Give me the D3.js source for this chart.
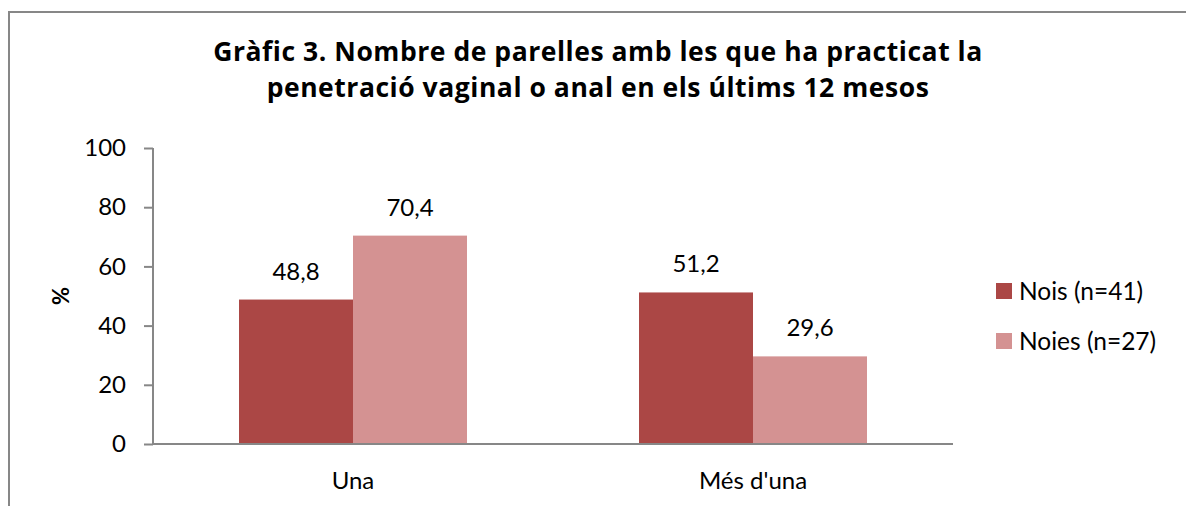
<!DOCTYPE html>
<html>
<head>
<meta charset="utf-8">
<script src="https://cdn.jsdelivr.net/npm/d3@7"></script>
<style>
  html, body { margin: 0; padding: 0; background: #fff; }
  svg { display: block; font-family: Lato, "Open Sans", sans-serif; }
</style>
</head>
<body>
<div id="chart"></div>
<script>
// Data
const categories = ["Una", "Més d'una"];
const seriesNames = ["Nois (n=41)", "Noies (n=27)"];
const nois = [48.8, 51.2];
const noies = [70.4, 29.6];
const yTicks = [0, 20, 40, 60, 80, 100];
const titleLines = [
  "Gràfic 3. Nombre de parelles amb les que ha practicat la",
  "penetració vaginal o anal en els últims 12 mesos"
];
const colors = ["#AB4745", "#D49292"];

document.addEventListener("DOMContentLoaded", function () {
  const width = 1186;
  const height = 506;
  const margin = { top: 148, right: 233, bottom: 62, left: 153 };

  const svg = d3.select("#chart")
    .append("svg")
    .attr("width", width)
    .attr("height", height);

  // Outer frame (runs off the right and bottom edge)
  svg.append("rect")
    .attr("x", 9)
    .attr("y", 12)
    .attr("width", 1200)
    .attr("height", 520)
    .attr("fill", "none")
    .attr("stroke", "#878787")
    .attr("stroke-width", 2);

  // Title, fitted to the width of the original first line
  const title = svg.append("g")
    .attr("font-family", "'Open Sans', sans-serif")
    .attr("font-weight", "bold")
    .attr("text-anchor", "middle")
    .attr("fill", "#000");
  const lines = title.selectAll("text")
    .data(titleLines)
    .enter()
    .append("text")
    .attr("x", 598)
    .attr("y", (d, i) => 61 + i * 36)
    .attr("font-size", 26.5)
    .text(d => d);
  const w = lines.node().getComputedTextLength();
  const extra = Math.max(0, (769 - w) / (titleLines[0].length - 1));
  lines.attr("letter-spacing", extra);

  // Scales
  const x0 = d3.scaleBand()
    .domain(categories)
    .range([margin.left, width - margin.right])
    .paddingInner(0.43)
    .paddingOuter(0.215);

  const x1 = d3.scaleBand()
    .domain(seriesNames)
    .range([0, x0.bandwidth()]);

  const y = d3.scaleLinear()
    .domain([0, 100])
    .range([height - margin.bottom, margin.top]);

  // Bars
  const rows = categories.map((c, i) => ({ cat: c, values: [nois[i], noies[i]] }));

  const groups = svg.selectAll(".group")
    .data(rows)
    .enter()
    .append("g")
    .attr("class", "group")
    .attr("transform", d => `translate(${x0(d.cat)},0)`);

  groups.selectAll("rect")
    .data(d => d.values.map((v, j) => ({ name: seriesNames[j], value: v, j: j })))
    .enter()
    .append("rect")
    .attr("x", d => x1(d.name))
    .attr("y", d => y(d.value))
    .attr("width", x1.bandwidth())
    .attr("height", d => y(0) - y(d.value))
    .attr("fill", d => colors[d.j]);

  // Data labels
  groups.selectAll(".label")
    .data(d => d.values.map((v, j) => ({ name: seriesNames[j], value: v })))
    .enter()
    .append("text")
    .attr("class", "label")
    .attr("x", d => x1(d.name) + x1.bandwidth() / 2)
    .attr("y", d => y(d.value) - 20)
    .attr("text-anchor", "middle")
    .attr("font-size", 24)
    .attr("fill", "#000")
    .text(d => d3.format(".1f")(d.value).replace(".", ","));

  // Y axis
  const yAxis = svg.append("g")
    .attr("transform", `translate(${margin.left},0)`)
    .call(d3.axisLeft(y).tickValues(yTicks).tickSize(9).tickPadding(18));
  yAxis.selectAll("line, path").attr("stroke", "#878787").attr("stroke-width", 2);
  yAxis.select(".domain").attr("d", `M0,${y(100)}V${y(0)}`);
  yAxis.selectAll("text")
    .attr("font-size", 24)
    .attr("font-family", "Lato, sans-serif")
    .attr("fill", "#000");

  // X axis
  const xAxis = svg.append("g")
    .attr("transform", `translate(0,${y(0)})`)
    .call(d3.axisBottom(x0).tickSize(0).tickPadding(28));
  xAxis.select(".domain")
    .attr("d", `M${margin.left},0H${width - margin.right}`)
    .attr("stroke", "#878787")
    .attr("stroke-width", 2);
  xAxis.selectAll("text")
    .attr("font-size", 24)
    .attr("font-family", "Lato, sans-serif")
    .attr("fill", "#000");

  // Y axis title
  svg.append("text")
    .attr("transform", "translate(69,296) rotate(-90)")
    .attr("text-anchor", "middle")
    .attr("font-size", 22)
    .attr("font-weight", "bold")
    .text("%");

  // Legend
  const legend = svg.selectAll(".legend")
    .data(seriesNames)
    .enter()
    .append("g")
    .attr("class", "legend")
    .attr("transform", (d, i) => `translate(996,${283 + i * 50})`);

  legend.append("rect")
    .attr("width", 16)
    .attr("height", 16)
    .attr("fill", (d, i) => colors[i]);

  legend.append("text")
    .attr("x", 23)
    .attr("y", 8)
    .attr("dy", "0.35em")
    .attr("font-size", 24.5)
    .text(d => d);
});
</script>
</body>
</html>
